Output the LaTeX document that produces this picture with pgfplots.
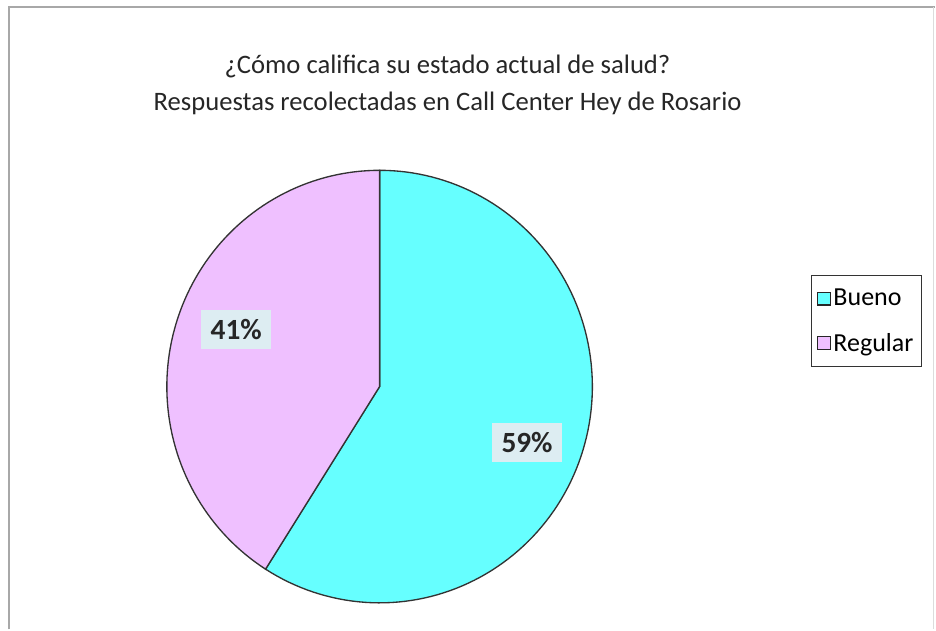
\documentclass[border=0pt]{standalone}
\usepackage{fontspec}
\setmainfont{Carlito}
\usepackage{pgfplots}
\usepackage{pgfplotstable}
\pgfplotsset{compat=1.18}

\definecolor{bueno}{HTML}{66FFFF}
\definecolor{regular}{HTML}{EFC0FF}
\definecolor{lblbg}{HTML}{DDEDF2}
\definecolor{frame}{HTML}{A8A8A8}

\pgfplotstableread{
label   value
Bueno   59
Regular 41
}\saluddata

\pgfplotstablegetelem{0}{value}\of\saluddata
\let\valBueno\pgfplotsretval
\pgfplotstablegetelem{1}{value}\of\saluddata
\let\valRegular\pgfplotsretval
% slices start at 12 o'clock; Bueno runs clockwise, Regular fills the rest
\pgfmathsetmacro\angSplit{90-3.6*\valBueno}
\pgfmathsetmacro\angEnd{\angSplit+360}

\begin{document}
\begin{tikzpicture}[x=0.75pt,y=0.75pt]
  % canvas
  \path (0,0) rectangle (936,630);
  \draw[frame, line width=1.5pt] (9,0) -- (9,623) -- (936,623);
  \draw[frame!40, line width=0.6pt] (934.5,623) -- (934.5,0);

  % title
  \node[font=\fontsize{20}{24}\selectfont, text=black!85] at (448,563) {¿Cómo califica su estado actual de salud?};
  \node[font=\fontsize{20}{24}\selectfont, text=black!85] at (448,526) {Respuestas recolectadas en Call Center Hey de Rosario};

  \coordinate (C) at (380,243);
  \begin{axis}[
    at={(C)}, anchor=center,
    scale only axis, width=319.5pt, height=324.75pt,
    xmin=-1, xmax=1, ymin=-1, ymax=1,
    hide axis, clip=false,
    legend style={at={(1.514,0.757)}, anchor=north west,
      draw=black!80, line width=0.8pt, fill=white,
      font=\fontsize{19.5}{22}\selectfont,
      inner xsep=4pt, inner ysep=8pt, row sep=15pt,
      /tikz/every even column/.append style={column sep=2pt}},
    legend cell align=left,
    legend image code/.code={\draw[#1, draw=black!85, line width=0.8pt] (0pt,-4.8pt) rectangle (9.6pt,4.8pt);},
  ]
    \addplot[fill=bueno, draw=black!80, line width=1pt, domain=\angSplit:90, samples=120, variable=\t]
      ({cos(\t)},{sin(\t)}) -- (axis cs:0,0) -- cycle;
    \addlegendentry{Bueno}
    \addplot[fill=regular, draw=black!80, line width=1pt, domain=90:\angEnd, samples=90, variable=\t]
      ({cos(\t)},{sin(\t)}) -- (axis cs:0,0) -- cycle;
    \addlegendentry{Regular}

    \node[fill=lblbg, font=\bfseries\fontsize{22}{22}\selectfont, text=black!85,
          inner xsep=7pt, inner ysep=7pt] at (axis cs:0.693,-0.26) {59\%};
    \node[fill=lblbg, font=\bfseries\fontsize{22}{22}\selectfont, text=black!85,
          inner xsep=7pt, inner ysep=7pt] at (axis cs:-0.674,0.265) {41\%};
  \end{axis}
\end{tikzpicture}
\end{document}
